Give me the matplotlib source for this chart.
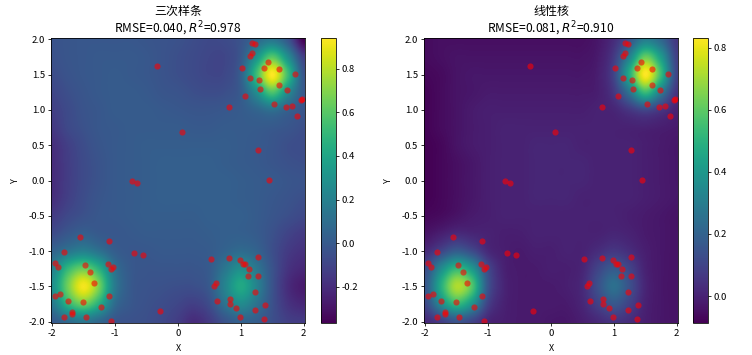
import numpy as np
import matplotlib
matplotlib.use('Agg')
import matplotlib.pyplot as plt

plt.rcParams['font.family'] = ['Noto Sans CJK SC', 'DejaVu Sans']
plt.rcParams['axes.unicode_minus'] = False

# sample points (same in both panels)
point_x = [1.18, 1.22, 1.18, 1.15, 1.43, 1.37, 1.60, 1.02, 1.86, 1.15, 1.29, 1.60, 1.30, 1.73, 1.06, 1.97, 1.95,
           1.53, 1.82, 1.71, 0.81, 1.89, -0.34, 0.07, 1.28, 1.45, -0.73, -0.65,
           -1.56, -1.09, -1.82, -0.70, -0.55, -1.96, -1.91, -1.48, -1.12, -1.03, -1.07, -1.40, -1.34, -1.09, -1.95,
           -1.88, -1.75, -1.51, -1.23, -1.69, -1.68, -1.81, -1.46, -1.06, -0.29,
           0.52, 0.81, 0.99, 1.27, 1.03, 1.06, 1.13, 1.12, 1.28, 0.61, 0.57, 1.23, 0.62, 0.83, 0.82, 0.93, 1.39,
           1.22, 0.98, 1.36]
point_y = [1.95, 1.94, 1.81, 1.77, 1.68, 1.60, 1.58, 1.60, 1.51, 1.46, 1.43, 1.36, 1.30, 1.28, 1.20, 1.16, 1.14,
           1.09, 1.06, 1.04, 1.04, 0.91, 1.62, 0.69, 0.43, 0.01, -0.01, -0.04,
           -0.80, -0.86, -1.01, -1.03, -1.05, -1.17, -1.22, -1.20, -1.18, -1.22, -1.26, -1.29, -1.46, -1.64, -1.64,
           -1.61, -1.71, -1.72, -1.80, -1.86, -1.89, -1.93, -1.93, -1.99, -1.85,
           -1.11, -1.10, -1.13, -1.08, -1.19, -1.19, -1.25, -1.36, -1.36, -1.46, -1.49, -1.58, -1.71, -1.68, -1.75,
           -1.81, -1.77, -1.84, -1.93, -1.97]

# surface read at x,y = -2 ... 2 in steps of 0.25, top row is y=2
cubic_z = [
    [-.03, -.02, -.01, -.01, -.01, -.01, -.02, -.03, -.04, -.06, -.08, -.07, -.03, .07, .14, -.02, -.365],
    [-.04, -.02, -.01, 0, 0, 0, -.01, -.03, -.05, -.07, -.09, -.09, -.01, .3, .6, .28, -.12],
    [-.06, -.03, -.01, 0, .01, 0, -.01, -.03, -.05, -.07, -.09, -.08, .03, .53, .94, .53, -.02],
    [-.09, -.05, -.02, 0, .01, .01, 0, -.02, -.03, -.05, -.06, -.05, .01, .28, .58, .27, 0],
    [-.12, -.07, -.03, -.01, .01, .01, .01, 0, -.01, -.02, -.02, -.01, .01, .06, .12, .04, -.02],
    [-.15, -.08, -.04, -.01, 0, .01, .01, .01, .01, 0, 0, .01, .01, .01, 0, -.02, -.05],
    [-.19, -.12, -.06, -.02, 0, .01, .02, .02, .02, .02, .02, .02, .01, 0, -.02, -.05, -.06],
    [-.2, -.13, -.07, -.03, 0, .01, .02, .03, .03, .03, .03, .02, .01, 0, -.02, -.04, -.05],
    [-.2, -.13, -.07, -.03, 0, .01, .02, .03, .03, .03, .03, .03, .02, .01, 0, -.02, -.03],
    [-.19, -.12, -.06, -.02, 0, .01, .02, .03, .03, .03, .03, .03, .02, .01, -.01, -.03, -.05],
    [-.14, -.08, -.04, -.01, 0, .01, .02, .02, .02, .02, .03, .03, .03, .01, -.02, -.05, -.08],
    [-.07, -.01, .03, 0, -.01, 0, .01, .01, .01, .01, .02, .03, .03, .01, -.04, -.1, -.14],
    [.05, .14, .2, .12, .02, -.01, -.01, 0, 0, 0, .01, .05, .09, .05, -.05, -.14, -.18],
    [.2, .5, .64, .46, .12, 0, -.02, -.02, -.02, -.02, .01, .15, .28, .15, -.03, -.17, -.22],
    [.28, .66, .92, .66, .17, 0, -.03, -.04, -.05, -.05, 0, .22, .42, .22, -.03, -.2, -.27],
    [.16, .48, .64, .44, .09, -.01, -.04, -.06, -.09, -.12, -.06, .13, .26, .13, -.04, -.17, -.22],
    [0, .09, .15, .07, -.02, -.04, -.05, -.08, -.13, -.2, -.14, -.03, .04, .02, -.05, -.12, -.14],
]
linear_z = [
    [-.06, -.05, -.05, -.05, -.05, -.05, -.05, -.05, -.05, -.05, -.05, -.03, .03, .15, .3, .22, .06],
    [-.06, -.05, -.04, -.04, -.04, -.04, -.04, -.04, -.04, -.04, -.04, -.02, .07, .32, .62, .42, .09],
    [-.07, -.06, -.04, -.03, -.03, -.03, -.03, -.03, -.03, -.03, -.03, -.01, .1, .48, .832, .54, .1],
    [-.08, -.06, -.04, -.03, -.02, -.02, -.02, -.02, -.02, -.02, -.02, -.01, .06, .27, .54, .3, .05],
    [-.08, -.06, -.04, -.02, -.01, -.01, -.01, -.01, -.01, -.01, -.01, 0, .01, .06, .11, .06, 0],
    [-.08, -.06, -.04, -.02, -.01, 0, 0, 0, 0, 0, 0, 0, 0, 0, 0, -.01, -.02],
    [-.085, -.07, -.04, -.02, -.01, 0, 0, .01, .01, .01, 0, 0, 0, 0, -.01, -.02, -.03],
    [-.087, -.07, -.05, -.03, -.01, 0, 0, .01, .01, .01, .01, 0, 0, 0, -.01, -.02, -.03],
    [-.087, -.07, -.05, -.03, -.01, 0, 0, .01, .01, .01, .01, 0, 0, 0, -.01, -.02, -.03],
    [-.085, -.07, -.05, -.03, -.01, 0, 0, .01, .01, .01, 0, 0, 0, 0, -.01, -.02, -.03],
    [-.07, -.06, -.04, -.02, -.01, 0, 0, 0, 0, 0, 0, 0, 0, -.01, -.02, -.03, -.04],
    [-.04, -.01, .02, .01, 0, -.01, -.01, 0, 0, 0, 0, 0, .01, 0, -.02, -.03, -.04],
    [.02, .1, .18, .12, .02, -.01, -.02, -.01, -.01, 0, 0, .03, .06, .03, -.01, -.03, -.04],
    [.12, .35, .52, .4, .12, 0, -.02, -.02, -.01, -.01, .01, .1, .17, .1, 0, -.03, -.04],
    [.16, .48, .72, .58, .15, .01, -.02, -.02, -.02, -.01, .02, .14, .25, .14, .01, -.03, -.04],
    [.11, .35, .52, .38, .09, 0, -.02, -.02, -.02, -.02, .01, .09, .16, .09, 0, -.03, -.04],
    [.02, .08, .15, .1, .01, -.01, -.02, -.02, -.03, -.03, -.01, .02, .05, .03, -.01, -.03, -.04],
]

panel_titles = ['三次样条\nRMSE=0.040, $R^2$=0.978', '线性核\nRMSE=0.081, $R^2$=0.910']
panel_z = [cubic_z, linear_z]
cbar_ticks = [[-0.2, 0, 0.2, 0.4, 0.6, 0.8], [0, 0.2, 0.4, 0.6, 0.8]]

W, H = 752, 355
fig = plt.figure(figsize=(W / 72, H / 72), dpi=72)
ax_lefts = [51, 424]
cax_lefts = [321, 693]

for i in range(2):
    ax = fig.add_axes([ax_lefts[i] / W, (H - 323) / H, 254 / W, 285 / H])
    cax = fig.add_axes([cax_lefts[i] / W, (H - 323) / H, 14.5 / W, 285 / H])
    im = ax.imshow(panel_z[i], cmap='viridis', extent=[-2.125, 2.125, -2.125, 2.125],
                   interpolation='catrom', aspect='auto')
    ax.scatter(point_x, point_y, c='red', s=38, alpha=0.6, linewidths=0)
    ax.set_xlim(-2.02, 2.02)
    ax.set_ylim(-2.02, 2.02)
    ax.set_xticks([-2, -1, 0, 1, 2])
    ax.set_yticks([-2, -1.5, -1, -0.5, 0, 0.5, 1, 1.5, 2])
    ax.set_xlabel('X', fontsize=9, labelpad=6)
    ax.set_ylabel('Y', fontsize=9, labelpad=8)
    ax.set_title(panel_titles[i], fontsize=12, pad=4, linespacing=1.1)
    ax.tick_params(labelsize=9.5, length=3, pad=3)
    cb = fig.colorbar(im, cax=cax)
    cb.set_ticks(cbar_ticks[i])
    cb.ax.tick_params(labelsize=9.5, length=3, pad=3)

fig.savefig('out.png', dpi=72)
